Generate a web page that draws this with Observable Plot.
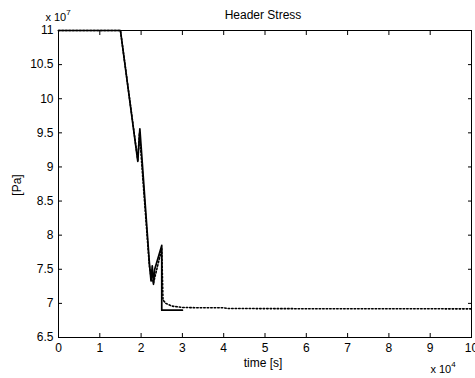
<!DOCTYPE html>
<html><head><meta charset="utf-8">
<script src="https://cdn.jsdelivr.net/npm/d3@7"></script>
<script src="https://cdn.jsdelivr.net/npm/@observablehq/plot@0.6"></script>
<style>
body{margin:0;background:#fff;}
svg{font-family:"Liberation Sans",Arial,sans-serif;}
</style></head>
<body><div id="chart"></div>
<script>
const title = "Header Stress";
const xLabel = "time [s]";
const yLabel = "[Pa]";
const xTicks = [0,1,2,3,4,5,6,7,8,9,10];
const yTicks = [6.5,7,7.5,8,8.5,9,9.5,10,10.5,11];
// time in units of 1e4 s, stress in units of 1e7 Pa
const solidT = [0,1.5,1.92,1.97,2.2,2.24,2.27,2.3,2.33,2.5,2.5,3.0];
const solidP = [11,11,9.08,9.56,7.6,7.33,7.55,7.28,7.5,7.85,6.9,6.9];
const dottedT = [0,1.5,1.92,1.96,2.2,2.25,2.3,2.5,2.53,2.6,2.75,3.0,3.5,4.0,4.1,6,10];
const dottedP = [11,11,9.1,9.5,7.55,7.35,7.3,7.8,7.05,7.0,6.96,6.94,6.935,6.935,6.925,6.922,6.92];

const solid = solidT.map((t,i)=>({t, p: solidP[i]}));
const dotted = dottedT.map((t,i)=>({t, p: dottedP[i]}));
const fmt = d => String(d);

const W = 475, H = 378;
const plot = Plot.plot({
  width: W, height: H,
  marginLeft: 58, marginRight: 4, marginTop: 30, marginBottom: 41,
  style: {fontSize: "12px", fontFamily: "Liberation Sans, Arial, sans-serif", color: "black", background: "white"},
  x: {domain: [0,10], ticks: xTicks},
  y: {domain: [6.5,11], ticks: yTicks},
  marks: [
    Plot.line(dotted, {x: "t", y: "p", stroke: "black", strokeWidth: 1.6, strokeDasharray: "1.5,2"}),
    Plot.line(solid, {x: "t", y: "p", stroke: "black", strokeWidth: 1.7}),
    Plot.axisX({anchor: "bottom", ticks: xTicks, tickSize: 0, tickPadding: 6, tickFormat: fmt, label: null, fontSize: 12}),
    Plot.axisX({anchor: "bottom", ticks: xTicks, tickSize: -4, tickFormat: () => "", label: null}),
    Plot.axisX({anchor: "top", ticks: xTicks, tickSize: -4, tickFormat: () => "", label: null}),
    Plot.axisY({anchor: "left", ticks: yTicks, tickSize: 0, tickPadding: 5, tickFormat: fmt, label: null, fontSize: 12}),
    Plot.axisY({anchor: "left", ticks: yTicks, tickSize: -4, tickFormat: () => "", label: null}),
    Plot.axisY({anchor: "right", ticks: yTicks, tickSize: -4, tickFormat: () => "", label: null}),
    Plot.frame({stroke: "black", strokeWidth: 1})
  ]
});
document.getElementById("chart").appendChild(plot);

const svg = d3.select(plot);
const fam = "Liberation Sans, Arial, sans-serif";
svg.append("text").attr("x", 263).attr("y", 19).attr("text-anchor", "middle")
  .attr("font-size", 12).attr("font-family", fam).text(title);
svg.append("text").attr("x", 263).attr("y", 367).attr("text-anchor", "middle")
  .attr("font-size", 12).attr("font-family", fam).text(xLabel);
svg.append("text").attr("transform", "translate(21,185) rotate(-90)").attr("text-anchor", "middle")
  .attr("font-size", 12).attr("font-family", fam).text(yLabel);
const e7 = svg.append("text").attr("x", 58).attr("y", 21).attr("font-size", 11).attr("font-family", fam);
e7.append("tspan").text("x 10");
e7.append("tspan").attr("dy", -6).attr("font-size", 8).text("7");
const e4 = svg.append("text").attr("x", 443).attr("y", 373).attr("font-size", 11).attr("font-family", fam);
e4.append("tspan").text("x 10");
e4.append("tspan").attr("dy", -6).attr("font-size", 8).text("4");
</script></body></html>
